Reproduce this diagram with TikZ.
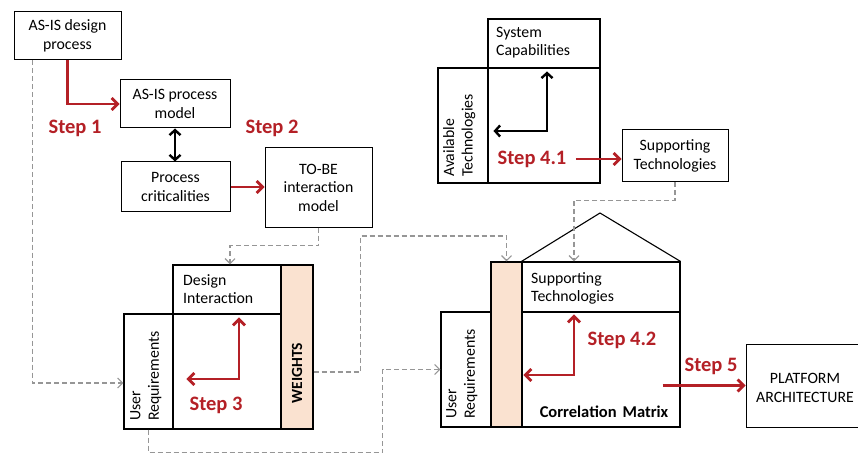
\documentclass[tikz,border=0pt]{standalone}
\usepackage{fontspec}
\setmainfont{Carlito}
\usepackage{xcolor}
\usepackage{tikz}
\usetikzlibrary{positioning,fit,arrows.meta}
\definecolor{stepred}{RGB}{180,32,38}
\definecolor{weightfill}{RGB}{250,226,208}
\definecolor{linkgray}{RGB}{150,150,150}

\begin{document}
\begin{tikzpicture}[x=1pt,y=-1pt,
  font=\fontsize{15.8}{18.5}\selectfont,
  box/.style={draw,line width=1pt,align=center,inner sep=0pt},
  cell/.style={draw,line width=1.1pt,inner sep=0pt},
  weight/.style={cell,fill=weightfill},
  celltext/.style={anchor=north west,align=left,inner sep=0pt},
  sidetext/.style={rotate=90,anchor=north west,align=left,inner sep=0pt},
  steplabel/.style={text=stepred,font=\fontsize{20.5}{24}\selectfont\bfseries},
  redarrow/.style={draw=stepred,line width=2.8pt,-{Straight Barb[length=6pt,width=12pt]}},
  redboth/.style={redarrow,{Straight Barb[length=6pt,width=12pt]}-{Straight Barb[length=6pt,width=12pt]}},
  blackboth/.style={draw=black,line width=2.4pt,{Straight Barb[length=5pt,width=11pt]}-{Straight Barb[length=5pt,width=11pt]}},
  link/.style={draw=linkgray,line width=1.2pt,dash pattern=on 5pt off 3pt,-{Straight Barb[length=5pt,width=10pt]}}]
\useasboundingbox (0,0) rectangle (858,454);
\clip (0,0) rectangle (858,454);

      \node[box,minimum width=107pt,minimum height=48pt] (asisdesign) at (67.5,36) {AS-IS design\\process};
      \node[box,minimum width=110pt,minimum height=48pt] (asismodel) at (175,104) {AS-IS process\\model};
      \node[box,minimum width=109pt,minimum height=50pt] (crit) at (175.5,187) {Process\\criticalities};
      \node[box,minimum width=107pt,minimum height=79pt] (tobe) at (318.5,187.5) {TO-BE\\interaction\\model};
      \node[box,minimum width=106pt,minimum height=52pt] (suptech) at (675,156) {Supporting\\Technologies};
      \node[box,minimum width=130pt,minimum height=83pt] (platform) at (811,385.5) {};
      \node[align=center,inner sep=0pt] (platformtext) at (805,388) {PLATFORM\\ARCHITECTURE};

      \node[steplabel] (step1) at (75,128) {Step 1};
      \node[steplabel] (step2) at (272,128) {Step 2};

% step 3 matrix
      \node[weight,fit={(281,265) (313,429)}] (w1) {};
      \node[cell,fit={(173,265) (281,314)}] (di) {};
      \node[cell,fit={(124,314) (173,429)}] (ur1) {};
      \node[cell,fit={(173,314) (281,429)}] (m1) {};
      \node[celltext] (ditext) at (183,274) {Design\\Interaction};
      \node[sidetext] (urtext1) at (130,421) {User\\Requirements};
      \node[rotate=90,font=\fontsize{15.5}{18}\selectfont\bfseries] (wtext) at (297,373) {WEIGHTS};
      \node[steplabel] (step3) at (216,405) {Step 3};
      \coordinate (c3) at (239,379);

% step 4.1 matrix
      \node[cell,fit={(488,19) (600,68)}] (sc) {};
      \node[cell,fit={(438,68) (488,183)}] (avtech) {};
      \node[cell,fit={(488,68) (600,183)}] (m41) {};
      \node[celltext] (sctext) at (496,27) {System\\Capabilities};
      \node[sidetext] (avtext) at (443,177) {Available\\Technologies};
      \node[steplabel] (step41) at (532,159) {Step 4.1};
      \coordinate (c41) at (547,131);

% step 4.2 matrix
      \node[weight,fit={(491,262) (522,427)}] (w2) {};
      \node[cell,fit={(522,262) (680,312)}] (st2) {};
      \node[cell,fit={(441,312) (491,427)}] (ur2) {};
      \node[cell,fit={(522,312) (680,427)}] (m42) {};
      \coordinate (apex) at (600,213);
      \draw[line width=1.1pt] (st2.north west) -- (apex) -- (st2.north east);
      \node[celltext] (sttext) at (531,272) {Supporting\\Technologies};
      \node[sidetext] (urtext2) at (446,419) {User\\Requirements};
      \node[font=\fontsize{16.5}{19}\selectfont\bfseries] (cmtext) at (604,412) {Correlation\hspace{6pt}Matrix};
      \node[steplabel] (step42) at (622,340) {Step 4.2};
      \node[steplabel] (step5) at (711,366) {Step 5};
      \coordinate (c42) at (574,375);

      \draw[redarrow] (asisdesign.south) |- (asismodel.west);
      \draw[blackboth] (asismodel.south) -- (asismodel.south |- crit.north);
      \draw[redarrow] (crit.east) -- (crit.east -| tobe.west);
      \draw[redboth] ([xshift=14pt]m1.west |- c3) -| ([yshift=-4pt]m1.north -| c3);
      \draw[blackboth] ([xshift=6pt]m41.west |- c41) -| ([yshift=-4pt]m41.north -| c41);
      \draw[redarrow] ([xshift=6pt]step41.east) -- (step41.east -| suptech.west);
      \draw[redboth] ([xshift=2pt]m42.west |- c42) -| ([yshift=-3pt]m42.north -| c42);
      \draw[redarrow] ([xshift=-18pt]m42.east |- platform.west) -- (platform.west);

      \draw[link] ([xshift=19pt]asisdesign.south west) |- ([yshift=-11.5pt]ur1.west);
      \draw[link] (tobe.south) -- ++(0,18) -| ([xshift=3pt]di.north);
      \draw[link] ([yshift=-25pt]w1.east) -- ++(47,0) -- ++(0,-136) -| (w2.north);
      \draw[link] (suptech.south) -- ++(0,18) -| ([xshift=-27pt]st2.north);
      \draw[link] (ur1.south) -- ++(0,23) -- ++(234,0) |- (ur2.west);
\end{tikzpicture}
\end{document}
